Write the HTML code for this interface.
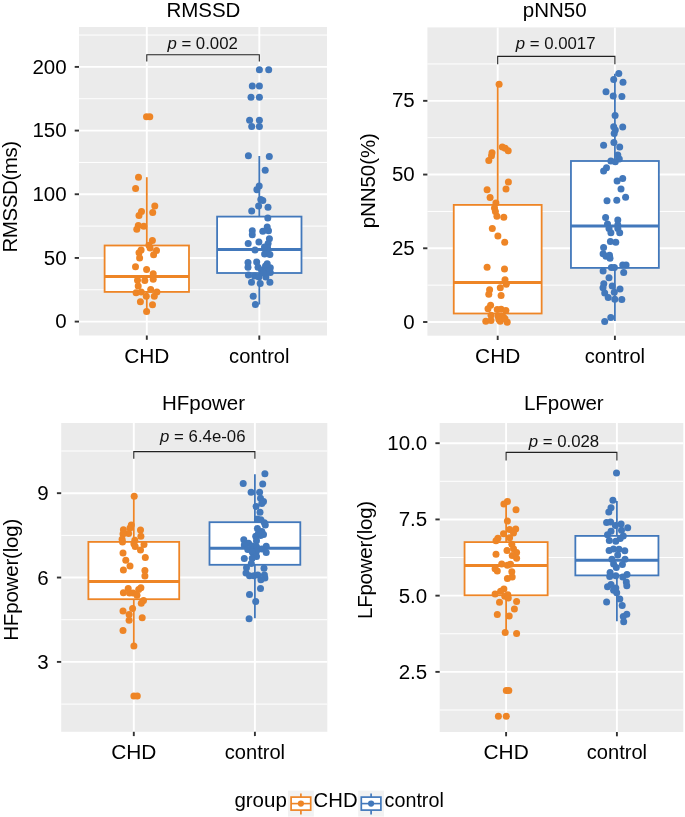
<!DOCTYPE html><html><head><meta charset="utf-8"><style>html,body{margin:0;padding:0;background:#fff;}svg{display:block;will-change:transform}text{font-family:"Liberation Sans",sans-serif;}</style></head><body>
<svg width="685" height="817" viewBox="0 0 685 817">
<rect width="685" height="817" fill="#fff"/>
<rect x="79" y="27" width="248" height="308.5" fill="#EBEBEB"/>
<line x1="79" x2="327" y1="289.76" y2="289.76" stroke="#fff" stroke-width="1"/>
<line x1="79" x2="327" y1="226.09" y2="226.09" stroke="#fff" stroke-width="1"/>
<line x1="79" x2="327" y1="162.41" y2="162.41" stroke="#fff" stroke-width="1"/>
<line x1="79" x2="327" y1="98.74" y2="98.74" stroke="#fff" stroke-width="1"/>
<line x1="79" x2="327" y1="35.06" y2="35.06" stroke="#fff" stroke-width="1"/>
<line x1="79" x2="327" y1="321.6" y2="321.6" stroke="#fff" stroke-width="1.9"/>
<line x1="79" x2="327" y1="257.93" y2="257.93" stroke="#fff" stroke-width="1.9"/>
<line x1="79" x2="327" y1="194.25" y2="194.25" stroke="#fff" stroke-width="1.9"/>
<line x1="79" x2="327" y1="130.58" y2="130.58" stroke="#fff" stroke-width="1.9"/>
<line x1="79" x2="327" y1="66.9" y2="66.9" stroke="#fff" stroke-width="1.9"/>
<line x1="146.8" x2="146.8" y1="27" y2="335.5" stroke="#fff" stroke-width="1.9"/>
<line x1="259.3" x2="259.3" y1="27" y2="335.5" stroke="#fff" stroke-width="1.9"/>
<line x1="74.7" x2="79" y1="321.6" y2="321.6" stroke="#333" stroke-width="1.9"/>
<text x="66.6" y="328.2" font-size="20.5" text-anchor="end" fill="#000">0</text>
<line x1="74.7" x2="79" y1="257.93" y2="257.93" stroke="#333" stroke-width="1.9"/>
<text x="66.6" y="264.53" font-size="20.5" text-anchor="end" fill="#000">50</text>
<line x1="74.7" x2="79" y1="194.25" y2="194.25" stroke="#333" stroke-width="1.9"/>
<text x="66.6" y="200.85" font-size="20.5" text-anchor="end" fill="#000">100</text>
<line x1="74.7" x2="79" y1="130.58" y2="130.58" stroke="#333" stroke-width="1.9"/>
<text x="66.6" y="137.18" font-size="20.5" text-anchor="end" fill="#000">150</text>
<line x1="74.7" x2="79" y1="66.9" y2="66.9" stroke="#333" stroke-width="1.9"/>
<text x="66.6" y="73.5" font-size="20.5" text-anchor="end" fill="#000">200</text>
<line x1="146.8" x2="146.8" y1="335.5" y2="339.8" stroke="#333" stroke-width="1.9"/>
<text x="146.8" y="362.8" font-size="20.5" text-anchor="middle" textLength="45.2" lengthAdjust="spacingAndGlyphs" fill="#000">CHD</text>
<line x1="259.3" x2="259.3" y1="335.5" y2="339.8" stroke="#333" stroke-width="1.9"/>
<text x="259.3" y="362.8" font-size="20.5" text-anchor="middle" textLength="60.4" lengthAdjust="spacingAndGlyphs" fill="#000">control</text>
<text x="203.4" y="16.8" font-size="20.5" text-anchor="middle" fill="#000">RMSSD</text>
<text transform="translate(16.9,252.6) rotate(-90)" x="0" y="0" font-size="20.5" textLength="111.8" lengthAdjust="spacing" fill="#000">RMSSD(ms)</text>
<line x1="146.8" x2="146.8" y1="177.2" y2="245.5" stroke="#EE8526" stroke-width="1.8"/>
<line x1="146.8" x2="146.8" y1="291.9" y2="311.6" stroke="#EE8526" stroke-width="1.8"/>
<rect x="104.61" y="245.5" width="84.38" height="46.4" fill="#fff" stroke="#EE8526" stroke-width="1.8"/>
<line x1="104.61" x2="188.99" y1="276.5" y2="276.5" stroke="#EE8526" stroke-width="3.0"/>
<line x1="259.3" x2="259.3" y1="156" y2="216.6" stroke="#4278BB" stroke-width="1.8"/>
<line x1="259.3" x2="259.3" y1="273" y2="304.5" stroke="#4278BB" stroke-width="1.8"/>
<rect x="217.11" y="216.6" width="84.38" height="56.4" fill="#fff" stroke="#4278BB" stroke-width="1.8"/>
<line x1="217.11" x2="301.49" y1="249.4" y2="249.4" stroke="#4278BB" stroke-width="3.0"/>
<circle cx="146.5" cy="116.8" r="3.5" fill="#EE8526"/>
<circle cx="149.8" cy="116.8" r="3.5" fill="#EE8526"/>
<circle cx="138.5" cy="177.2" r="3.5" fill="#EE8526"/>
<circle cx="135.6" cy="188.5" r="3.5" fill="#EE8526"/>
<circle cx="154.8" cy="206" r="3.5" fill="#EE8526"/>
<circle cx="152.7" cy="212.5" r="3.5" fill="#EE8526"/>
<circle cx="141.5" cy="211.5" r="3.5" fill="#EE8526"/>
<circle cx="139" cy="215.5" r="3.5" fill="#EE8526"/>
<circle cx="138.3" cy="225.6" r="3.5" fill="#EE8526"/>
<circle cx="143.8" cy="226.2" r="3.5" fill="#EE8526"/>
<circle cx="136.8" cy="229.3" r="3.5" fill="#EE8526"/>
<circle cx="152.4" cy="240.5" r="3.5" fill="#EE8526"/>
<circle cx="148.9" cy="245.2" r="3.5" fill="#EE8526"/>
<circle cx="150.1" cy="248.1" r="3.5" fill="#EE8526"/>
<circle cx="156.5" cy="250.4" r="3.5" fill="#EE8526"/>
<circle cx="153.6" cy="254.8" r="3.5" fill="#EE8526"/>
<circle cx="141.1" cy="250.1" r="3.5" fill="#EE8526"/>
<circle cx="139" cy="252.8" r="3.5" fill="#EE8526"/>
<circle cx="139.6" cy="258" r="3.5" fill="#EE8526"/>
<circle cx="135.5" cy="266.8" r="3.5" fill="#EE8526"/>
<circle cx="146.6" cy="269.6" r="3.5" fill="#EE8526"/>
<circle cx="153.2" cy="273.7" r="3.5" fill="#EE8526"/>
<circle cx="153.2" cy="279.2" r="3.5" fill="#EE8526"/>
<circle cx="137.5" cy="280.2" r="3.5" fill="#EE8526"/>
<circle cx="144.8" cy="280.6" r="3.5" fill="#EE8526"/>
<circle cx="138.2" cy="286.1" r="3.5" fill="#EE8526"/>
<circle cx="136.1" cy="292.7" r="3.5" fill="#EE8526"/>
<circle cx="141.2" cy="291.9" r="3.5" fill="#EE8526"/>
<circle cx="150.7" cy="289.4" r="3.5" fill="#EE8526"/>
<circle cx="156.9" cy="291.9" r="3.5" fill="#EE8526"/>
<circle cx="154.3" cy="296.3" r="3.5" fill="#EE8526"/>
<circle cx="146.3" cy="296.3" r="3.5" fill="#EE8526"/>
<circle cx="140.4" cy="301.8" r="3.5" fill="#EE8526"/>
<circle cx="152.5" cy="304.7" r="3.5" fill="#EE8526"/>
<circle cx="146.6" cy="311.6" r="3.5" fill="#EE8526"/>
<circle cx="259.4" cy="69.8" r="3.5" fill="#4278BB"/>
<circle cx="268.7" cy="69.8" r="3.5" fill="#4278BB"/>
<circle cx="252.3" cy="85.9" r="3.5" fill="#4278BB"/>
<circle cx="259.4" cy="85.9" r="3.5" fill="#4278BB"/>
<circle cx="251" cy="97.2" r="3.5" fill="#4278BB"/>
<circle cx="259.4" cy="97.2" r="3.5" fill="#4278BB"/>
<circle cx="249.6" cy="120.2" r="3.5" fill="#4278BB"/>
<circle cx="259.4" cy="120.2" r="3.5" fill="#4278BB"/>
<circle cx="251.7" cy="126.6" r="3.5" fill="#4278BB"/>
<circle cx="259.4" cy="126.6" r="3.5" fill="#4278BB"/>
<circle cx="248.4" cy="155.8" r="3.5" fill="#4278BB"/>
<circle cx="269.3" cy="156.5" r="3.5" fill="#4278BB"/>
<circle cx="265.2" cy="170.2" r="3.5" fill="#4278BB"/>
<circle cx="259.2" cy="185.9" r="3.5" fill="#4278BB"/>
<circle cx="256.9" cy="189.8" r="3.5" fill="#4278BB"/>
<circle cx="260.8" cy="199.6" r="3.5" fill="#4278BB"/>
<circle cx="262.8" cy="200.6" r="3.5" fill="#4278BB"/>
<circle cx="258.6" cy="206" r="3.5" fill="#4278BB"/>
<circle cx="268" cy="207.2" r="3.5" fill="#4278BB"/>
<circle cx="251.7" cy="210.9" r="3.5" fill="#4278BB"/>
<circle cx="267.8" cy="218" r="3.5" fill="#4278BB"/>
<circle cx="267.2" cy="226.9" r="3.5" fill="#4278BB"/>
<circle cx="262.8" cy="231.3" r="3.5" fill="#4278BB"/>
<circle cx="268.5" cy="230.8" r="3.5" fill="#4278BB"/>
<circle cx="252.3" cy="230.8" r="3.5" fill="#4278BB"/>
<circle cx="252.3" cy="234.8" r="3.5" fill="#4278BB"/>
<circle cx="269.4" cy="238.7" r="3.5" fill="#4278BB"/>
<circle cx="268.1" cy="243.5" r="3.5" fill="#4278BB"/>
<circle cx="248.2" cy="243.4" r="3.5" fill="#4278BB"/>
<circle cx="258.9" cy="242.1" r="3.5" fill="#4278BB"/>
<circle cx="255" cy="250.1" r="3.5" fill="#4278BB"/>
<circle cx="266.8" cy="251.4" r="3.5" fill="#4278BB"/>
<circle cx="264.6" cy="254" r="3.5" fill="#4278BB"/>
<circle cx="269.9" cy="254.5" r="3.5" fill="#4278BB"/>
<circle cx="248" cy="262.4" r="3.5" fill="#4278BB"/>
<circle cx="256.7" cy="261.9" r="3.5" fill="#4278BB"/>
<circle cx="267.2" cy="263.7" r="3.5" fill="#4278BB"/>
<circle cx="248" cy="267.3" r="3.5" fill="#4278BB"/>
<circle cx="258" cy="267.3" r="3.5" fill="#4278BB"/>
<circle cx="270.3" cy="267.7" r="3.5" fill="#4278BB"/>
<circle cx="261.5" cy="269.9" r="3.5" fill="#4278BB"/>
<circle cx="270.3" cy="272.5" r="3.5" fill="#4278BB"/>
<circle cx="248.4" cy="275.1" r="3.5" fill="#4278BB"/>
<circle cx="254.5" cy="276" r="3.5" fill="#4278BB"/>
<circle cx="258.9" cy="276.9" r="3.5" fill="#4278BB"/>
<circle cx="265.9" cy="276.9" r="3.5" fill="#4278BB"/>
<circle cx="251.5" cy="282.2" r="3.5" fill="#4278BB"/>
<circle cx="260.2" cy="283.5" r="3.5" fill="#4278BB"/>
<circle cx="269.9" cy="282.2" r="3.5" fill="#4278BB"/>
<circle cx="253.2" cy="296.2" r="3.5" fill="#4278BB"/>
<circle cx="255.4" cy="304.5" r="3.5" fill="#4278BB"/>
<circle cx="267.5" cy="247.5" r="3.5" fill="#4278BB"/>
<circle cx="264.5" cy="247" r="3.5" fill="#4278BB"/>
<circle cx="265.5" cy="266" r="3.5" fill="#4278BB"/>
<circle cx="268" cy="270.5" r="3.5" fill="#4278BB"/>
<circle cx="263.5" cy="273" r="3.5" fill="#4278BB"/>
<path d="M146.8 61.6V54.7H259.3V61.6" fill="none" stroke="#222" stroke-width="1.1"/>
<text x="167.4" y="48.8" font-size="16.8" fill="#111"><tspan font-style="italic">p</tspan> = 0.002</text>
<rect x="427.4" y="27.4" width="257.8" height="308.3" fill="#EBEBEB"/>
<line x1="427.4" x2="685.2" y1="285.14" y2="285.14" stroke="#fff" stroke-width="1"/>
<line x1="427.4" x2="685.2" y1="211.41" y2="211.41" stroke="#fff" stroke-width="1"/>
<line x1="427.4" x2="685.2" y1="137.69" y2="137.69" stroke="#fff" stroke-width="1"/>
<line x1="427.4" x2="685.2" y1="63.96" y2="63.96" stroke="#fff" stroke-width="1"/>
<line x1="427.4" x2="685.2" y1="322" y2="322" stroke="#fff" stroke-width="1.9"/>
<line x1="427.4" x2="685.2" y1="248.28" y2="248.28" stroke="#fff" stroke-width="1.9"/>
<line x1="427.4" x2="685.2" y1="174.55" y2="174.55" stroke="#fff" stroke-width="1.9"/>
<line x1="427.4" x2="685.2" y1="100.83" y2="100.83" stroke="#fff" stroke-width="1.9"/>
<line x1="497.7" x2="497.7" y1="27.4" y2="335.7" stroke="#fff" stroke-width="1.9"/>
<line x1="614.9" x2="614.9" y1="27.4" y2="335.7" stroke="#fff" stroke-width="1.9"/>
<line x1="423.1" x2="427.4" y1="322" y2="322" stroke="#333" stroke-width="1.9"/>
<text x="414.7" y="328.6" font-size="20.5" text-anchor="end" fill="#000">0</text>
<line x1="423.1" x2="427.4" y1="248.28" y2="248.28" stroke="#333" stroke-width="1.9"/>
<text x="414.7" y="254.88" font-size="20.5" text-anchor="end" fill="#000">25</text>
<line x1="423.1" x2="427.4" y1="174.55" y2="174.55" stroke="#333" stroke-width="1.9"/>
<text x="414.7" y="181.15" font-size="20.5" text-anchor="end" fill="#000">50</text>
<line x1="423.1" x2="427.4" y1="100.83" y2="100.83" stroke="#333" stroke-width="1.9"/>
<text x="414.7" y="107.43" font-size="20.5" text-anchor="end" fill="#000">75</text>
<line x1="497.7" x2="497.7" y1="335.7" y2="340" stroke="#333" stroke-width="1.9"/>
<text x="497.7" y="363" font-size="20.5" text-anchor="middle" textLength="45.2" lengthAdjust="spacingAndGlyphs" fill="#000">CHD</text>
<line x1="614.9" x2="614.9" y1="335.7" y2="340" stroke="#333" stroke-width="1.9"/>
<text x="614.9" y="363" font-size="20.5" text-anchor="middle" textLength="60.4" lengthAdjust="spacingAndGlyphs" fill="#000">control</text>
<text x="554.7" y="16.8" font-size="20.5" text-anchor="middle" fill="#000">pNN50</text>
<text transform="translate(375.1,228.3) rotate(-90)" x="0" y="0" font-size="20.5" textLength="95.2" lengthAdjust="spacing" fill="#000">pNN50(%)</text>
<line x1="497.7" x2="497.7" y1="84.2" y2="204.9" stroke="#EE8526" stroke-width="1.8"/>
<line x1="497.7" x2="497.7" y1="313.5" y2="322" stroke="#EE8526" stroke-width="1.8"/>
<rect x="453.75" y="204.9" width="87.9" height="108.6" fill="#fff" stroke="#EE8526" stroke-width="1.8"/>
<line x1="453.75" x2="541.65" y1="282.4" y2="282.4" stroke="#EE8526" stroke-width="3.0"/>
<line x1="614.9" x2="614.9" y1="73.8" y2="161" stroke="#4278BB" stroke-width="1.8"/>
<line x1="614.9" x2="614.9" y1="267.9" y2="321.1" stroke="#4278BB" stroke-width="1.8"/>
<rect x="570.95" y="161" width="87.9" height="106.9" fill="#fff" stroke="#4278BB" stroke-width="1.8"/>
<line x1="570.95" x2="658.85" y1="226.1" y2="226.1" stroke="#4278BB" stroke-width="3.0"/>
<circle cx="499.1" cy="84.2" r="3.5" fill="#EE8526"/>
<circle cx="502.3" cy="146.9" r="3.5" fill="#EE8526"/>
<circle cx="505.2" cy="148.3" r="3.5" fill="#EE8526"/>
<circle cx="508.2" cy="150.8" r="3.5" fill="#EE8526"/>
<circle cx="492" cy="152.7" r="3.5" fill="#EE8526"/>
<circle cx="491.5" cy="155.7" r="3.5" fill="#EE8526"/>
<circle cx="488.8" cy="160.6" r="3.5" fill="#EE8526"/>
<circle cx="508.4" cy="182.1" r="3.5" fill="#EE8526"/>
<circle cx="506" cy="188.9" r="3.5" fill="#EE8526"/>
<circle cx="487.1" cy="189.7" r="3.5" fill="#EE8526"/>
<circle cx="490.1" cy="197.6" r="3.5" fill="#EE8526"/>
<circle cx="495.9" cy="203.1" r="3.5" fill="#EE8526"/>
<circle cx="494.5" cy="208" r="3.5" fill="#EE8526"/>
<circle cx="495.4" cy="211.4" r="3.5" fill="#EE8526"/>
<circle cx="496.9" cy="216.3" r="3.5" fill="#EE8526"/>
<circle cx="503.8" cy="217.3" r="3.5" fill="#EE8526"/>
<circle cx="492.3" cy="228.6" r="3.5" fill="#EE8526"/>
<circle cx="497.9" cy="235.9" r="3.5" fill="#EE8526"/>
<circle cx="504.7" cy="242.3" r="3.5" fill="#EE8526"/>
<circle cx="487.1" cy="267.3" r="3.5" fill="#EE8526"/>
<circle cx="504.5" cy="269" r="3.5" fill="#EE8526"/>
<circle cx="505" cy="279.7" r="3.5" fill="#EE8526"/>
<circle cx="506.3" cy="284.3" r="3.5" fill="#EE8526"/>
<circle cx="500.3" cy="287.8" r="3.5" fill="#EE8526"/>
<circle cx="489.6" cy="289.8" r="3.5" fill="#EE8526"/>
<circle cx="488.8" cy="294.3" r="3.5" fill="#EE8526"/>
<circle cx="501.1" cy="295.6" r="3.5" fill="#EE8526"/>
<circle cx="490.6" cy="305.2" r="3.5" fill="#EE8526"/>
<circle cx="488" cy="308.7" r="3.5" fill="#EE8526"/>
<circle cx="497.2" cy="309.6" r="3.5" fill="#EE8526"/>
<circle cx="501.1" cy="309.2" r="3.5" fill="#EE8526"/>
<circle cx="505.9" cy="310.5" r="3.5" fill="#EE8526"/>
<circle cx="491" cy="315.2" r="3.5" fill="#EE8526"/>
<circle cx="485.8" cy="321.3" r="3.5" fill="#EE8526"/>
<circle cx="491" cy="320.5" r="3.5" fill="#EE8526"/>
<circle cx="498" cy="316.1" r="3.5" fill="#EE8526"/>
<circle cx="500.2" cy="321.3" r="3.5" fill="#EE8526"/>
<circle cx="503.3" cy="317" r="3.5" fill="#EE8526"/>
<circle cx="507.2" cy="322.2" r="3.5" fill="#EE8526"/>
<circle cx="498.9" cy="319.6" r="3.5" fill="#EE8526"/>
<circle cx="505" cy="318.7" r="3.5" fill="#EE8526"/>
<circle cx="618.8" cy="73.5" r="3.5" fill="#4278BB"/>
<circle cx="613.7" cy="79.6" r="3.5" fill="#4278BB"/>
<circle cx="623" cy="82.3" r="3.5" fill="#4278BB"/>
<circle cx="606" cy="91.8" r="3.5" fill="#4278BB"/>
<circle cx="613.2" cy="96" r="3.5" fill="#4278BB"/>
<circle cx="621.9" cy="96.4" r="3.5" fill="#4278BB"/>
<circle cx="615.1" cy="115.5" r="3.5" fill="#4278BB"/>
<circle cx="613.7" cy="126.8" r="3.5" fill="#4278BB"/>
<circle cx="622.7" cy="127.1" r="3.5" fill="#4278BB"/>
<circle cx="615.3" cy="130" r="3.5" fill="#4278BB"/>
<circle cx="614.2" cy="133.6" r="3.5" fill="#4278BB"/>
<circle cx="613.9" cy="142.5" r="3.5" fill="#4278BB"/>
<circle cx="603.6" cy="145.2" r="3.5" fill="#4278BB"/>
<circle cx="619.7" cy="147.1" r="3.5" fill="#4278BB"/>
<circle cx="617.8" cy="155" r="3.5" fill="#4278BB"/>
<circle cx="619.3" cy="158.9" r="3.5" fill="#4278BB"/>
<circle cx="610.9" cy="161.1" r="3.5" fill="#4278BB"/>
<circle cx="615.3" cy="161.8" r="3.5" fill="#4278BB"/>
<circle cx="606.5" cy="167.7" r="3.5" fill="#4278BB"/>
<circle cx="603.6" cy="171.1" r="3.5" fill="#4278BB"/>
<circle cx="622.7" cy="178.4" r="3.5" fill="#4278BB"/>
<circle cx="617.1" cy="180.9" r="3.5" fill="#4278BB"/>
<circle cx="621" cy="188.9" r="3.5" fill="#4278BB"/>
<circle cx="625.6" cy="197.3" r="3.5" fill="#4278BB"/>
<circle cx="607" cy="200.7" r="3.5" fill="#4278BB"/>
<circle cx="616.8" cy="200.3" r="3.5" fill="#4278BB"/>
<circle cx="605.6" cy="217.6" r="3.5" fill="#4278BB"/>
<circle cx="617.8" cy="220.1" r="3.5" fill="#4278BB"/>
<circle cx="607.5" cy="224" r="3.5" fill="#4278BB"/>
<circle cx="617.8" cy="225" r="3.5" fill="#4278BB"/>
<circle cx="609" cy="228.4" r="3.5" fill="#4278BB"/>
<circle cx="617.8" cy="228.4" r="3.5" fill="#4278BB"/>
<circle cx="610.9" cy="232.8" r="3.5" fill="#4278BB"/>
<circle cx="619.7" cy="232.8" r="3.5" fill="#4278BB"/>
<circle cx="610.4" cy="241.6" r="3.5" fill="#4278BB"/>
<circle cx="615.8" cy="242.3" r="3.5" fill="#4278BB"/>
<circle cx="603.6" cy="247.5" r="3.5" fill="#4278BB"/>
<circle cx="603.1" cy="253.8" r="3.5" fill="#4278BB"/>
<circle cx="606" cy="256.3" r="3.5" fill="#4278BB"/>
<circle cx="609.5" cy="255.3" r="3.5" fill="#4278BB"/>
<circle cx="610" cy="258.2" r="3.5" fill="#4278BB"/>
<circle cx="611.4" cy="267.5" r="3.5" fill="#4278BB"/>
<circle cx="614.4" cy="267.5" r="3.5" fill="#4278BB"/>
<circle cx="622.7" cy="265.1" r="3.5" fill="#4278BB"/>
<circle cx="626.1" cy="265.1" r="3.5" fill="#4278BB"/>
<circle cx="603.1" cy="271" r="3.5" fill="#4278BB"/>
<circle cx="623.7" cy="272.4" r="3.5" fill="#4278BB"/>
<circle cx="609" cy="277.8" r="3.5" fill="#4278BB"/>
<circle cx="603.8" cy="283.8" r="3.5" fill="#4278BB"/>
<circle cx="603" cy="287.8" r="3.5" fill="#4278BB"/>
<circle cx="612.2" cy="286" r="3.5" fill="#4278BB"/>
<circle cx="620" cy="289.1" r="3.5" fill="#4278BB"/>
<circle cx="614.3" cy="292.2" r="3.5" fill="#4278BB"/>
<circle cx="604.7" cy="293" r="3.5" fill="#4278BB"/>
<circle cx="608.2" cy="297.4" r="3.5" fill="#4278BB"/>
<circle cx="614.8" cy="299.2" r="3.5" fill="#4278BB"/>
<circle cx="621.8" cy="299.6" r="3.5" fill="#4278BB"/>
<circle cx="610.8" cy="317.6" r="3.5" fill="#4278BB"/>
<circle cx="604.7" cy="321.5" r="3.5" fill="#4278BB"/>
<path d="M497.7 64.2V56.4H614.9V64.2" fill="none" stroke="#222" stroke-width="1.1"/>
<text x="515.7" y="49" font-size="16.8" fill="#111"><tspan font-style="italic">p</tspan> = 0.0017</text>
<rect x="61.2" y="423" width="266.1" height="308.8" fill="#EBEBEB"/>
<line x1="61.2" x2="327.3" y1="704.08" y2="704.08" stroke="#fff" stroke-width="1"/>
<line x1="61.2" x2="327.3" y1="619.72" y2="619.72" stroke="#fff" stroke-width="1"/>
<line x1="61.2" x2="327.3" y1="535.36" y2="535.36" stroke="#fff" stroke-width="1"/>
<line x1="61.2" x2="327.3" y1="451" y2="451" stroke="#fff" stroke-width="1"/>
<line x1="61.2" x2="327.3" y1="661.9" y2="661.9" stroke="#fff" stroke-width="1.9"/>
<line x1="61.2" x2="327.3" y1="577.54" y2="577.54" stroke="#fff" stroke-width="1.9"/>
<line x1="61.2" x2="327.3" y1="493.18" y2="493.18" stroke="#fff" stroke-width="1.9"/>
<line x1="133.8" x2="133.8" y1="423" y2="731.8" stroke="#fff" stroke-width="1.9"/>
<line x1="254.9" x2="254.9" y1="423" y2="731.8" stroke="#fff" stroke-width="1.9"/>
<line x1="56.9" x2="61.2" y1="661.9" y2="661.9" stroke="#333" stroke-width="1.9"/>
<text x="48.7" y="668.9" font-size="20.5" text-anchor="end" fill="#000">3</text>
<line x1="56.9" x2="61.2" y1="577.54" y2="577.54" stroke="#333" stroke-width="1.9"/>
<text x="48.7" y="584.54" font-size="20.5" text-anchor="end" fill="#000">6</text>
<line x1="56.9" x2="61.2" y1="493.18" y2="493.18" stroke="#333" stroke-width="1.9"/>
<text x="48.7" y="500.18" font-size="20.5" text-anchor="end" fill="#000">9</text>
<line x1="133.8" x2="133.8" y1="731.8" y2="736.1" stroke="#333" stroke-width="1.9"/>
<text x="133.8" y="759.1" font-size="20.5" text-anchor="middle" textLength="45.2" lengthAdjust="spacingAndGlyphs" fill="#000">CHD</text>
<line x1="254.9" x2="254.9" y1="731.8" y2="736.1" stroke="#333" stroke-width="1.9"/>
<text x="254.9" y="759.1" font-size="20.5" text-anchor="middle" textLength="60.4" lengthAdjust="spacingAndGlyphs" fill="#000">control</text>
<text x="203.5" y="409.7" font-size="20.5" text-anchor="middle" fill="#000">HFpower</text>
<text transform="translate(18.2,640.8) rotate(-90)" x="0" y="0" font-size="20.5" textLength="122.2" lengthAdjust="spacing" fill="#000">HFpower(log)</text>
<line x1="133.8" x2="133.8" y1="496.2" y2="541.9" stroke="#EE8526" stroke-width="1.8"/>
<line x1="133.8" x2="133.8" y1="599.2" y2="646.1" stroke="#EE8526" stroke-width="1.8"/>
<rect x="88.39" y="541.9" width="90.82" height="57.3" fill="#fff" stroke="#EE8526" stroke-width="1.8"/>
<line x1="88.39" x2="179.21" y1="581.5" y2="581.5" stroke="#EE8526" stroke-width="3.0"/>
<line x1="254.9" x2="254.9" y1="474.2" y2="522.2" stroke="#4278BB" stroke-width="1.8"/>
<line x1="254.9" x2="254.9" y1="564.8" y2="618.2" stroke="#4278BB" stroke-width="1.8"/>
<rect x="209.49" y="522.2" width="90.82" height="42.6" fill="#fff" stroke="#4278BB" stroke-width="1.8"/>
<line x1="209.49" x2="300.31" y1="548.2" y2="548.2" stroke="#4278BB" stroke-width="3.0"/>
<circle cx="134.2" cy="496.2" r="3.5" fill="#EE8526"/>
<circle cx="131.3" cy="524.9" r="3.5" fill="#EE8526"/>
<circle cx="130" cy="527.9" r="3.5" fill="#EE8526"/>
<circle cx="128.6" cy="533.6" r="3.5" fill="#EE8526"/>
<circle cx="123.4" cy="529.7" r="3.5" fill="#EE8526"/>
<circle cx="123" cy="534" r="3.5" fill="#EE8526"/>
<circle cx="122.1" cy="539.3" r="3.5" fill="#EE8526"/>
<circle cx="122.5" cy="541.9" r="3.5" fill="#EE8526"/>
<circle cx="140.5" cy="530.1" r="3.5" fill="#EE8526"/>
<circle cx="140.9" cy="536.2" r="3.5" fill="#EE8526"/>
<circle cx="134.8" cy="540.2" r="3.5" fill="#EE8526"/>
<circle cx="133.9" cy="543.7" r="3.5" fill="#EE8526"/>
<circle cx="144" cy="544.6" r="3.5" fill="#EE8526"/>
<circle cx="135.2" cy="546.6" r="3.5" fill="#EE8526"/>
<circle cx="140.5" cy="550.1" r="3.5" fill="#EE8526"/>
<circle cx="123" cy="553" r="3.5" fill="#EE8526"/>
<circle cx="145.3" cy="557.6" r="3.5" fill="#EE8526"/>
<circle cx="125.8" cy="560.2" r="3.5" fill="#EE8526"/>
<circle cx="130" cy="566.1" r="3.5" fill="#EE8526"/>
<circle cx="123.4" cy="569.9" r="3.5" fill="#EE8526"/>
<circle cx="144.9" cy="570.5" r="3.5" fill="#EE8526"/>
<circle cx="144.9" cy="576" r="3.5" fill="#EE8526"/>
<circle cx="128.2" cy="588.4" r="3.5" fill="#EE8526"/>
<circle cx="140.9" cy="587.8" r="3.5" fill="#EE8526"/>
<circle cx="123.4" cy="592.7" r="3.5" fill="#EE8526"/>
<circle cx="129.5" cy="593.1" r="3.5" fill="#EE8526"/>
<circle cx="133" cy="593.1" r="3.5" fill="#EE8526"/>
<circle cx="137" cy="595.3" r="3.5" fill="#EE8526"/>
<circle cx="138.7" cy="589.6" r="3.5" fill="#EE8526"/>
<circle cx="143.5" cy="600.6" r="3.5" fill="#EE8526"/>
<circle cx="141.3" cy="603.2" r="3.5" fill="#EE8526"/>
<circle cx="132.6" cy="608.5" r="3.5" fill="#EE8526"/>
<circle cx="123" cy="611.1" r="3.5" fill="#EE8526"/>
<circle cx="129.1" cy="614.6" r="3.5" fill="#EE8526"/>
<circle cx="129.1" cy="620.3" r="3.5" fill="#EE8526"/>
<circle cx="142.2" cy="617.7" r="3.5" fill="#EE8526"/>
<circle cx="123" cy="630.4" r="3.5" fill="#EE8526"/>
<circle cx="133.9" cy="646.1" r="3.5" fill="#EE8526"/>
<circle cx="133.9" cy="696.1" r="3.5" fill="#EE8526"/>
<circle cx="137.3" cy="696.1" r="3.5" fill="#EE8526"/>
<circle cx="264.9" cy="473.8" r="3.5" fill="#4278BB"/>
<circle cx="243.2" cy="483.4" r="3.5" fill="#4278BB"/>
<circle cx="262.7" cy="484.1" r="3.5" fill="#4278BB"/>
<circle cx="251.1" cy="492.3" r="3.5" fill="#4278BB"/>
<circle cx="259.6" cy="492.2" r="3.5" fill="#4278BB"/>
<circle cx="260.5" cy="498.3" r="3.5" fill="#4278BB"/>
<circle cx="263.5" cy="501.4" r="3.5" fill="#4278BB"/>
<circle cx="261.8" cy="503.5" r="3.5" fill="#4278BB"/>
<circle cx="256.1" cy="506.6" r="3.5" fill="#4278BB"/>
<circle cx="260" cy="512.3" r="3.5" fill="#4278BB"/>
<circle cx="257.4" cy="518.9" r="3.5" fill="#4278BB"/>
<circle cx="260.9" cy="519.7" r="3.5" fill="#4278BB"/>
<circle cx="264.4" cy="522.8" r="3.5" fill="#4278BB"/>
<circle cx="265.3" cy="524.9" r="3.5" fill="#4278BB"/>
<circle cx="257.4" cy="528.4" r="3.5" fill="#4278BB"/>
<circle cx="261.8" cy="531.5" r="3.5" fill="#4278BB"/>
<circle cx="263.5" cy="534.5" r="3.5" fill="#4278BB"/>
<circle cx="255.7" cy="536.3" r="3.5" fill="#4278BB"/>
<circle cx="243.8" cy="539.8" r="3.5" fill="#4278BB"/>
<circle cx="256.5" cy="540.7" r="3.5" fill="#4278BB"/>
<circle cx="248.6" cy="543.3" r="3.5" fill="#4278BB"/>
<circle cx="244.3" cy="545" r="3.5" fill="#4278BB"/>
<circle cx="252.2" cy="545.9" r="3.5" fill="#4278BB"/>
<circle cx="256.5" cy="546.8" r="3.5" fill="#4278BB"/>
<circle cx="247.8" cy="549.4" r="3.5" fill="#4278BB"/>
<circle cx="266.2" cy="546.3" r="3.5" fill="#4278BB"/>
<circle cx="261.8" cy="549" r="3.5" fill="#4278BB"/>
<circle cx="266.2" cy="552.5" r="3.5" fill="#4278BB"/>
<circle cx="256.5" cy="551.2" r="3.5" fill="#4278BB"/>
<circle cx="252.2" cy="552" r="3.5" fill="#4278BB"/>
<circle cx="256.5" cy="556.4" r="3.5" fill="#4278BB"/>
<circle cx="252.2" cy="558.2" r="3.5" fill="#4278BB"/>
<circle cx="244.3" cy="558.6" r="3.5" fill="#4278BB"/>
<circle cx="251.3" cy="563.4" r="3.5" fill="#4278BB"/>
<circle cx="246.5" cy="567.8" r="3.5" fill="#4278BB"/>
<circle cx="264" cy="568.2" r="3.5" fill="#4278BB"/>
<circle cx="246" cy="573.1" r="3.5" fill="#4278BB"/>
<circle cx="249.5" cy="575.8" r="3.5" fill="#4278BB"/>
<circle cx="253.9" cy="575.8" r="3.5" fill="#4278BB"/>
<circle cx="257.8" cy="574.9" r="3.5" fill="#4278BB"/>
<circle cx="264.4" cy="574.9" r="3.5" fill="#4278BB"/>
<circle cx="264.9" cy="578" r="3.5" fill="#4278BB"/>
<circle cx="260.9" cy="579.7" r="3.5" fill="#4278BB"/>
<circle cx="260.5" cy="588.5" r="3.5" fill="#4278BB"/>
<circle cx="249.5" cy="594.6" r="3.5" fill="#4278BB"/>
<circle cx="255.7" cy="601.6" r="3.5" fill="#4278BB"/>
<circle cx="249.1" cy="618.7" r="3.5" fill="#4278BB"/>
<circle cx="260.5" cy="535.5" r="3.5" fill="#4278BB"/>
<circle cx="258.5" cy="533" r="3.5" fill="#4278BB"/>
<path d="M133.8 458.7V451.6H254.9V458.7" fill="none" stroke="#222" stroke-width="1.1"/>
<text x="160.1" y="442.3" font-size="16.8" fill="#111"><tspan font-style="italic">p</tspan> = 6.4e-06</text>
<rect x="439.7" y="423" width="243.6" height="309" fill="#EBEBEB"/>
<line x1="439.7" x2="683.3" y1="709.99" y2="709.99" stroke="#fff" stroke-width="1"/>
<line x1="439.7" x2="683.3" y1="633.76" y2="633.76" stroke="#fff" stroke-width="1"/>
<line x1="439.7" x2="683.3" y1="557.54" y2="557.54" stroke="#fff" stroke-width="1"/>
<line x1="439.7" x2="683.3" y1="481.31" y2="481.31" stroke="#fff" stroke-width="1"/>
<line x1="439.7" x2="683.3" y1="671.88" y2="671.88" stroke="#fff" stroke-width="1.9"/>
<line x1="439.7" x2="683.3" y1="595.65" y2="595.65" stroke="#fff" stroke-width="1.9"/>
<line x1="439.7" x2="683.3" y1="519.43" y2="519.43" stroke="#fff" stroke-width="1.9"/>
<line x1="439.7" x2="683.3" y1="443.2" y2="443.2" stroke="#fff" stroke-width="1.9"/>
<line x1="506.1" x2="506.1" y1="423" y2="732" stroke="#fff" stroke-width="1.9"/>
<line x1="616.9" x2="616.9" y1="423" y2="732" stroke="#fff" stroke-width="1.9"/>
<line x1="435.4" x2="439.7" y1="671.88" y2="671.88" stroke="#333" stroke-width="1.9"/>
<text x="427.2" y="678.88" font-size="20.5" text-anchor="end" fill="#000">2.5</text>
<line x1="435.4" x2="439.7" y1="595.65" y2="595.65" stroke="#333" stroke-width="1.9"/>
<text x="427.2" y="602.65" font-size="20.5" text-anchor="end" fill="#000">5.0</text>
<line x1="435.4" x2="439.7" y1="519.43" y2="519.43" stroke="#333" stroke-width="1.9"/>
<text x="427.2" y="526.43" font-size="20.5" text-anchor="end" fill="#000">7.5</text>
<line x1="435.4" x2="439.7" y1="443.2" y2="443.2" stroke="#333" stroke-width="1.9"/>
<text x="427.2" y="450.2" font-size="20.5" text-anchor="end" fill="#000">10.0</text>
<line x1="506.1" x2="506.1" y1="732" y2="736.3" stroke="#333" stroke-width="1.9"/>
<text x="506.1" y="759.3" font-size="20.5" text-anchor="middle" textLength="45.2" lengthAdjust="spacingAndGlyphs" fill="#000">CHD</text>
<line x1="616.9" x2="616.9" y1="732" y2="736.3" stroke="#333" stroke-width="1.9"/>
<text x="616.9" y="759.3" font-size="20.5" text-anchor="middle" textLength="60.4" lengthAdjust="spacingAndGlyphs" fill="#000">control</text>
<text x="563.8" y="410" font-size="20.5" text-anchor="middle" fill="#000">LFpower</text>
<text transform="translate(371.9,619) rotate(-90)" x="0" y="0" font-size="20.5" textLength="118.2" lengthAdjust="spacing" fill="#000">LFpower(log)</text>
<line x1="506.1" x2="506.1" y1="501.2" y2="542.1" stroke="#EE8526" stroke-width="1.8"/>
<line x1="506.1" x2="506.1" y1="595.3" y2="632.6" stroke="#EE8526" stroke-width="1.8"/>
<rect x="464.55" y="542.1" width="83.1" height="53.2" fill="#fff" stroke="#EE8526" stroke-width="1.8"/>
<line x1="464.55" x2="547.65" y1="565.4" y2="565.4" stroke="#EE8526" stroke-width="3.0"/>
<line x1="616.9" x2="616.9" y1="500.9" y2="535.9" stroke="#4278BB" stroke-width="1.8"/>
<line x1="616.9" x2="616.9" y1="575.4" y2="621.3" stroke="#4278BB" stroke-width="1.8"/>
<rect x="575.35" y="535.9" width="83.1" height="39.5" fill="#fff" stroke="#4278BB" stroke-width="1.8"/>
<line x1="575.35" x2="658.45" y1="560.3" y2="560.3" stroke="#4278BB" stroke-width="3.0"/>
<circle cx="507.4" cy="501.4" r="3.5" fill="#EE8526"/>
<circle cx="503.9" cy="504" r="3.5" fill="#EE8526"/>
<circle cx="516" cy="509.7" r="3.5" fill="#EE8526"/>
<circle cx="507.4" cy="521.1" r="3.5" fill="#EE8526"/>
<circle cx="509.6" cy="529.4" r="3.5" fill="#EE8526"/>
<circle cx="515.7" cy="529" r="3.5" fill="#EE8526"/>
<circle cx="513.5" cy="532.9" r="3.5" fill="#EE8526"/>
<circle cx="503.5" cy="533.8" r="3.5" fill="#EE8526"/>
<circle cx="497.9" cy="538.2" r="3.5" fill="#EE8526"/>
<circle cx="496" cy="540.8" r="3.5" fill="#EE8526"/>
<circle cx="509.6" cy="537.7" r="3.5" fill="#EE8526"/>
<circle cx="511.8" cy="544.3" r="3.5" fill="#EE8526"/>
<circle cx="513.5" cy="548.7" r="3.5" fill="#EE8526"/>
<circle cx="507" cy="550.6" r="3.5" fill="#EE8526"/>
<circle cx="496" cy="554.3" r="3.5" fill="#EE8526"/>
<circle cx="516.6" cy="552.5" r="3.5" fill="#EE8526"/>
<circle cx="512.2" cy="555.6" r="3.5" fill="#EE8526"/>
<circle cx="516.6" cy="558.2" r="3.5" fill="#EE8526"/>
<circle cx="501.7" cy="563.9" r="3.5" fill="#EE8526"/>
<circle cx="507.4" cy="565.2" r="3.5" fill="#EE8526"/>
<circle cx="510.5" cy="564.3" r="3.5" fill="#EE8526"/>
<circle cx="495.1" cy="568.7" r="3.5" fill="#EE8526"/>
<circle cx="497.3" cy="570.9" r="3.5" fill="#EE8526"/>
<circle cx="511.8" cy="571.8" r="3.5" fill="#EE8526"/>
<circle cx="512.2" cy="577" r="3.5" fill="#EE8526"/>
<circle cx="507.4" cy="578.4" r="3.5" fill="#EE8526"/>
<circle cx="503.9" cy="589" r="3.5" fill="#EE8526"/>
<circle cx="500.6" cy="591.2" r="3.5" fill="#EE8526"/>
<circle cx="495.1" cy="594" r="3.5" fill="#EE8526"/>
<circle cx="504.8" cy="596.2" r="3.5" fill="#EE8526"/>
<circle cx="507.8" cy="594.8" r="3.5" fill="#EE8526"/>
<circle cx="508.3" cy="598" r="3.5" fill="#EE8526"/>
<circle cx="499.5" cy="602.3" r="3.5" fill="#EE8526"/>
<circle cx="516.6" cy="601.5" r="3.5" fill="#EE8526"/>
<circle cx="514.4" cy="608.9" r="3.5" fill="#EE8526"/>
<circle cx="497.3" cy="614.6" r="3.5" fill="#EE8526"/>
<circle cx="509.2" cy="615.9" r="3.5" fill="#EE8526"/>
<circle cx="505.2" cy="632.6" r="3.5" fill="#EE8526"/>
<circle cx="516.6" cy="633.6" r="3.5" fill="#EE8526"/>
<circle cx="506.3" cy="690.5" r="3.5" fill="#EE8526"/>
<circle cx="508.8" cy="690.5" r="3.5" fill="#EE8526"/>
<circle cx="498.4" cy="716.2" r="3.5" fill="#EE8526"/>
<circle cx="506.3" cy="716.2" r="3.5" fill="#EE8526"/>
<circle cx="616.5" cy="473.1" r="3.5" fill="#4278BB"/>
<circle cx="612.9" cy="500.2" r="3.5" fill="#4278BB"/>
<circle cx="611" cy="507.7" r="3.5" fill="#4278BB"/>
<circle cx="608.8" cy="511.9" r="3.5" fill="#4278BB"/>
<circle cx="606.6" cy="522.4" r="3.5" fill="#4278BB"/>
<circle cx="610.6" cy="521.9" r="3.5" fill="#4278BB"/>
<circle cx="621.1" cy="524.1" r="3.5" fill="#4278BB"/>
<circle cx="615.4" cy="525.5" r="3.5" fill="#4278BB"/>
<circle cx="627.7" cy="527.7" r="3.5" fill="#4278BB"/>
<circle cx="611" cy="531.2" r="3.5" fill="#4278BB"/>
<circle cx="621.5" cy="530.3" r="3.5" fill="#4278BB"/>
<circle cx="607.5" cy="534.7" r="3.5" fill="#4278BB"/>
<circle cx="623.3" cy="536" r="3.5" fill="#4278BB"/>
<circle cx="609.3" cy="540.4" r="3.5" fill="#4278BB"/>
<circle cx="615.8" cy="541.3" r="3.5" fill="#4278BB"/>
<circle cx="620.2" cy="538.6" r="3.5" fill="#4278BB"/>
<circle cx="611.9" cy="559.2" r="3.5" fill="#4278BB"/>
<circle cx="625" cy="559.2" r="3.5" fill="#4278BB"/>
<circle cx="613.6" cy="564" r="3.5" fill="#4278BB"/>
<circle cx="622.4" cy="564.5" r="3.5" fill="#4278BB"/>
<circle cx="616.3" cy="567.6" r="3.5" fill="#4278BB"/>
<circle cx="610.1" cy="572.4" r="3.5" fill="#4278BB"/>
<circle cx="627" cy="574.5" r="3.5" fill="#4278BB"/>
<circle cx="609.7" cy="576.6" r="3.5" fill="#4278BB"/>
<circle cx="615.8" cy="575.8" r="3.5" fill="#4278BB"/>
<circle cx="622.8" cy="577.1" r="3.5" fill="#4278BB"/>
<circle cx="626.3" cy="581.9" r="3.5" fill="#4278BB"/>
<circle cx="626.8" cy="585.8" r="3.5" fill="#4278BB"/>
<circle cx="607.5" cy="586.7" r="3.5" fill="#4278BB"/>
<circle cx="611" cy="584.5" r="3.5" fill="#4278BB"/>
<circle cx="615.8" cy="588" r="3.5" fill="#4278BB"/>
<circle cx="613.6" cy="590.2" r="3.5" fill="#4278BB"/>
<circle cx="616.7" cy="592.8" r="3.5" fill="#4278BB"/>
<circle cx="619.8" cy="599" r="3.5" fill="#4278BB"/>
<circle cx="606.6" cy="602" r="3.5" fill="#4278BB"/>
<circle cx="622.2" cy="605.5" r="3.5" fill="#4278BB"/>
<circle cx="626.8" cy="614.3" r="3.5" fill="#4278BB"/>
<circle cx="623.3" cy="616.5" r="3.5" fill="#4278BB"/>
<circle cx="623.7" cy="621.8" r="3.5" fill="#4278BB"/>
<circle cx="609.1" cy="550.6" r="3.5" fill="#4278BB"/>
<circle cx="613.5" cy="549" r="3.5" fill="#4278BB"/>
<circle cx="619" cy="549.2" r="3.5" fill="#4278BB"/>
<circle cx="624.8" cy="550.8" r="3.5" fill="#4278BB"/>
<circle cx="617.7" cy="555.1" r="3.5" fill="#4278BB"/>
<path d="M506.1 460.4V452.4H616.9V460.4" fill="none" stroke="#222" stroke-width="1.1"/>
<text x="528.7" y="446.9" font-size="16.8" fill="#111"><tspan font-style="italic">p</tspan> = 0.028</text>
<text x="234.4" y="807.2" font-size="20.5" fill="#000">group</text>
<rect x="288" y="790.6" width="25.8" height="26" fill="#F2F2F2"/>
<line x1="300.9" x2="300.9" y1="793.4" y2="814.4" stroke="#EE8526" stroke-width="1.7"/>
<rect x="291.1" y="797.1" width="19.6" height="13" fill="#fff" stroke="#EE8526" stroke-width="1.7"/>
<line x1="291.1" x2="310.7" y1="803.6" y2="803.6" stroke="#EE8526" stroke-width="1.6"/>
<circle cx="300.9" cy="803.6" r="3.1" fill="#EE8526"/>
<text x="313.6" y="807.2" font-size="20.5" textLength="44.0" lengthAdjust="spacingAndGlyphs" fill="#000">CHD</text>
<rect x="358.2" y="790.6" width="25.8" height="26" fill="#F2F2F2"/>
<line x1="371.1" x2="371.1" y1="793.4" y2="814.4" stroke="#4278BB" stroke-width="1.7"/>
<rect x="361.3" y="797.1" width="19.6" height="13" fill="#fff" stroke="#4278BB" stroke-width="1.7"/>
<line x1="361.3" x2="380.9" y1="803.6" y2="803.6" stroke="#4278BB" stroke-width="1.6"/>
<circle cx="371.1" cy="803.6" r="3.1" fill="#4278BB"/>
<text x="384.6" y="807.2" font-size="20.5" textLength="59.2" lengthAdjust="spacingAndGlyphs" fill="#000">control</text>
</svg></body></html>
